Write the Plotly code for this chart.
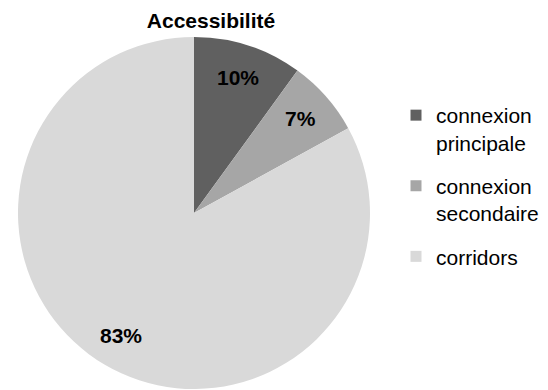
import math
import plotly.graph_objects as go

# Accessibility breakdown
labels = ["connexion principale", "connexion secondaire", "corridors"]
legend_labels = ["connexion<br>principale", "connexion<br>secondaire", "corridors"]
values = [10, 7, 83]
colors = ["#606060", "#a6a6a6", "#d9d9d9"]

W, H = 548, 390
FONT = "Liberation Sans, Arial, sans-serif"

# pie placement (paper fractions)
dom_x = [18 / W, 370 / W]
dom_y = [1 / H, 353 / H]

fig = go.Figure()
fig.add_trace(go.Pie(
    labels=labels,
    values=values,
    sort=False,
    direction="clockwise",
    rotation=0,
    marker=dict(colors=colors, line=dict(width=0)),
    textinfo="none",
    domain=dict(x=dom_x, y=dom_y),
    hoverinfo="label+percent",
    showlegend=False,
))

# legend entries, one group per category so the gaps can be set
for name, col in zip(legend_labels, colors):
    fig.add_trace(go.Scatter(
        x=[None], y=[None], mode="markers", name=name,
        legendgroup=name, hoverinfo="skip",
        marker=dict(symbol="square", size=11, color=col, line=dict(width=0)),
    ))

# percentage labels along each slice's mid-angle
cx = (dom_x[0] + dom_x[1]) / 2 * W
cy = (1 - (dom_y[0] + dom_y[1]) / 2) * H
r = min((dom_x[1] - dom_x[0]) * W, (dom_y[1] - dom_y[0]) * H) / 2
total = sum(values)
start = 0.0
for v in values:
    frac = v / total
    mid = (start + frac / 2) * 2 * math.pi
    start += frac
    px = cx + 0.81 * r * math.sin(mid)
    py = cy - 0.81 * r * math.cos(mid)
    fig.add_annotation(
        x=px / W, y=1 - py / H, xref="paper", yref="paper",
        text=f"<b>{frac * 100:.0f}%</b>", showarrow=False,
        xanchor="center", yanchor="middle",
        font=dict(family=FONT, size=21, color="#000000"),
    )

fig.update_layout(
    width=W, height=H,
    margin=dict(l=0, r=0, t=0, b=0),
    paper_bgcolor="white",
    plot_bgcolor="white",
    font=dict(family=FONT, color="#000000"),
    title=dict(text="<b>Accessibilité</b>", x=211 / W, xanchor="center",
               y=1 - 21 / H, yanchor="middle",
               font=dict(family=FONT, size=21, color="#000000")),
    xaxis=dict(visible=False),
    yaxis=dict(visible=False),
    legend=dict(x=396 / W, xanchor="left", y=1 - 95 / H, yanchor="top",
                font=dict(family=FONT, size=21, color="#000000"),
                traceorder="grouped", tracegroupgap=13, valign="top",
                bgcolor="rgba(0,0,0,0)"),
    showlegend=True,
)

fig.write_html("out.html")
